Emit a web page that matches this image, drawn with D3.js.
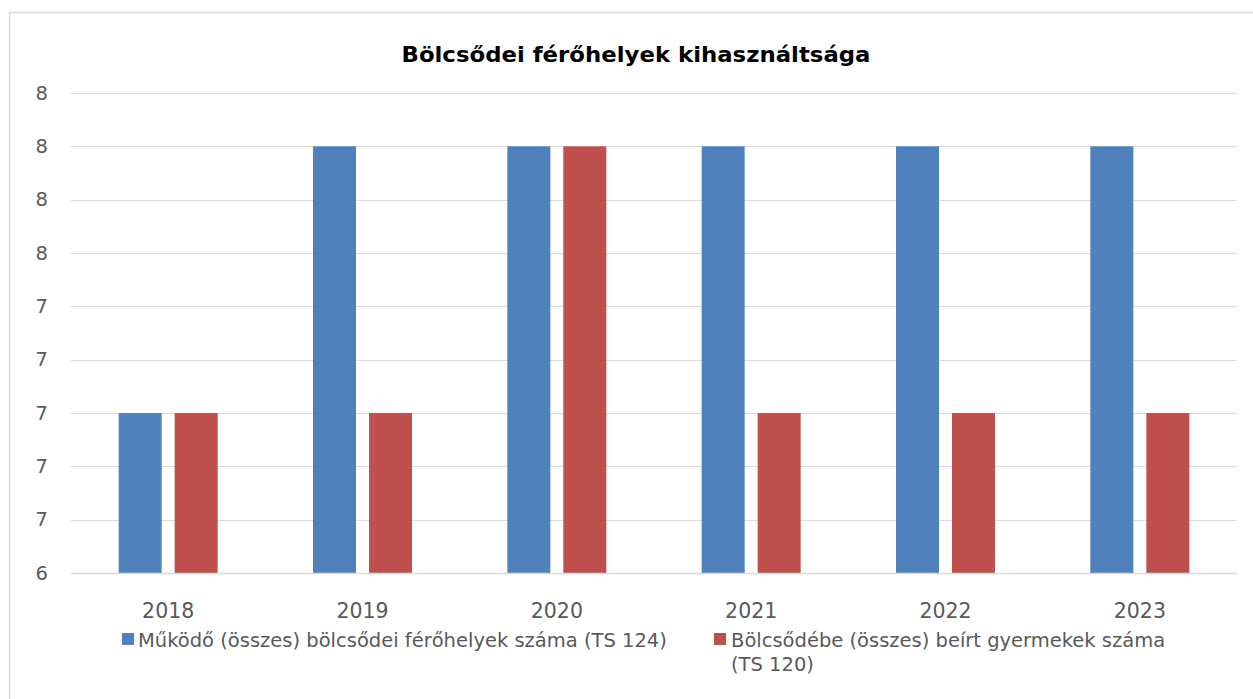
<!DOCTYPE html>
<html>
<head>
<meta charset="utf-8">
<script src="https://cdn.jsdelivr.net/npm/d3@7"></script>
<style>
  html, body { margin: 0; padding: 0; background: #fff; }
  svg { display: block; font-family: "DejaVu Sans", sans-serif; }
</style>
</head>
<body>
<svg id="chart" width="1253" height="699"></svg>
<script>
// Chart data
const title = "Bölcsődei férőhelyek kihasználtsága";
const years = ["2018", "2019", "2020", "2021", "2022", "2023"];
const seriesNames = [
  "Működő (összes) bölcsődei férőhelyek száma (TS 124)",
  "Bölcsődébe (összes) beírt gyermekek száma (TS 120)"
];
const placesValues = [7.0, 8.0, 8.0, 8.0, 8.0, 8.0];
const enrolledValues = [7.0, 7.0, 8.0, 7.0, 7.0, 7.0];
const yTickValues = [6.4, 6.6, 6.8, 7.0, 7.2, 7.4, 7.6, 7.8, 8.0, 8.2];
const yTickLabels = ["6", "7", "7", "7", "7", "7", "8", "8", "8", "8"];
const colors = ["#4f81bd", "#c0504d"];

const svg = d3.select("#chart");
const W = 1253, H = 699;
const plot = { left: 71, right: 1237, top: 93, bottom: 573 };
const textGrey = "#595959";

// Chart area outline (left and top edges only visible)
svg.append("path")
  .attr("d", `M9.5,${H} V12.5 H${W}`)
  .attr("fill", "none")
  .attr("stroke", "#d9d9d9")
  .attr("stroke-width", 1.5);

// Title
svg.append("text")
  .attr("x", 636).attr("y", 62)
  .attr("text-anchor", "middle")
  .attr("font-size", 21.5).attr("font-weight", "bold")
  .attr("textLength", 469).attr("lengthAdjust", "spacingAndGlyphs")
  .attr("fill", "#000")
  .text(title);

const y = d3.scaleLinear()
  .domain([yTickValues[0], yTickValues[yTickValues.length - 1]])
  .range([plot.bottom, plot.top]);

const x0 = d3.scaleBand().domain(years).range([plot.left, plot.right]).padding(0);
const cw = x0.bandwidth();
const x1 = d3.scaleBand().domain([0, 1])
  .range([cw / 2 - 49.5, cw / 2 + 49.5])
  .paddingInner(0.232).paddingOuter(0);

// Gridlines
svg.append("g")
  .selectAll("line")
  .data(yTickValues)
  .join("line")
  .attr("x1", plot.left).attr("x2", plot.right)
  .attr("y1", d => Math.round(y(d)) + 0.5).attr("y2", d => Math.round(y(d)) + 0.5)
  .attr("stroke", "#d9d9d9").attr("stroke-width", 1);

// Y axis labels
const yAxis = d3.axisLeft(y)
  .tickValues(yTickValues)
  .tickFormat((d, i) => yTickLabels[i])
  .tickSize(0).tickPadding(0);
const gy = svg.append("g").attr("transform", `translate(48,0)`).call(yAxis);
gy.select(".domain").remove();
gy.selectAll("text").attr("font-size", 19.5).attr("fill", textGrey)
  .attr("font-family", "'DejaVu Sans', sans-serif");

// Bars
const rows = years.map((yr, i) => ({ yr, vals: [placesValues[i], enrolledValues[i]] }));
const groups = svg.append("g").selectAll("g")
  .data(rows).join("g")
  .attr("transform", d => `translate(${x0(d.yr)},0)`);
groups.selectAll("rect")
  .data(d => d.vals.map((v, k) => ({ v, k })))
  .join("rect")
  .attr("x", d => x1(d.k))
  .attr("width", x1.bandwidth())
  .attr("y", d => y(d.v))
  .attr("height", d => plot.bottom - y(d.v))
  .attr("fill", d => colors[d.k]);

// Baseline
svg.append("line")
  .attr("x1", plot.left).attr("x2", plot.right)
  .attr("y1", plot.bottom + 0.5).attr("y2", plot.bottom + 0.5)
  .attr("stroke", "#d9d9d9").attr("stroke-width", 1.5);

// X axis labels
const xAxis = d3.axisBottom(x0).tickSize(0).tickPadding(0);
const gx = svg.append("g").attr("transform", `translate(0,${plot.bottom + 30})`).call(xAxis);
gx.select(".domain").remove();
gx.selectAll("text").attr("font-size", 20.5).attr("fill", textGrey)
  .attr("font-family", "'DejaVu Sans', sans-serif");

// Legend
const legend = svg.append("g").attr("font-size", 19.5).attr("fill", textGrey);
legend.append("rect").attr("x", 122).attr("y", 633).attr("width", 12).attr("height", 12).attr("fill", colors[0]);
legend.append("text").attr("x", 138).attr("y", 647).text(seriesNames[0]);
legend.append("rect").attr("x", 714).attr("y", 633).attr("width", 12).attr("height", 12).attr("fill", colors[1]);
const t2 = legend.append("text").attr("x", 731).attr("y", 647);
t2.append("tspan").attr("x", 731).text("Bölcsődébe (összes) beírt gyermekek száma");
t2.append("tspan").attr("x", 731).attr("dy", 24).text("(TS 120)");
</script>
</body>
</html>
